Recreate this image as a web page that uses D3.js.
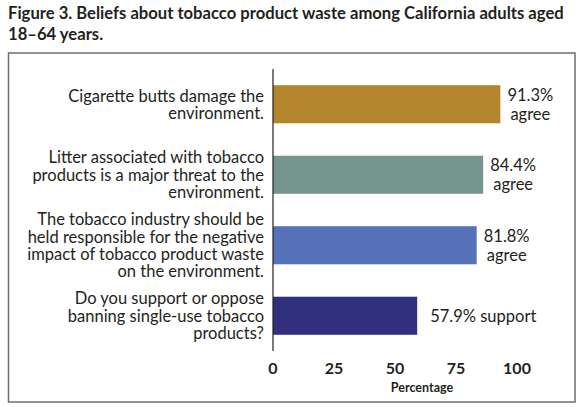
<!DOCTYPE html>
<html>
<head>
<meta charset="utf-8">
<script src="https://cdn.jsdelivr.net/npm/d3@7"></script>
<style>
  body { margin: 0; background: #fff; }
  svg text { font-family: Lato, "Open Sans", sans-serif; fill: #231f20; }
</style>
</head>
<body>
<svg id="chart" width="582" height="407"></svg>
<script>
// Chart data
const categories = [
  ['Cigarette butts damage the', 'environment.'],
  ['Litter associated with tobacco', 'products is a major threat to the', 'environment.'],
  ['The tobacco industry should be', 'held responsible for the negative', 'impact of tobacco product waste', 'on the environment.'],
  ['Do you support or oppose', 'banning single-use tobacco', 'products?']
];
const values = [91.3, 84.4, 81.8, 57.9];
const valueLabels = [['91.3%', 'agree'], ['84.4%', 'agree'], ['81.8%', 'agree'], ['57.9% support']];
const colors = ['#b3862e', '#75958e', '#5571b8', '#30307f'];
const tickValues = [0, 25, 50, 75, 100];
const titleLines = ['Figure 3. Beliefs about tobacco product waste among California adults aged', '18\u201364 years.'];

function renderChart() {
  const svg = d3.select('#chart');

  // title, shrink the font until the long line fits the width of the frame
  const title = svg.selectAll('.title')
    .data(titleLines)
    .enter()
    .append('text')
    .attr('class', 'title')
    .attr('x', 8)
    .attr('y', (d, i) => 19 + i * 21)
    .attr('font-size', 18)
    .attr('font-weight', 'bold')
    .text(d => d);
  const w = title.node().getComputedTextLength();
  if (w > 556) title.attr('font-size', 18 * 556 / w);

  // frame
  svg.append('rect')
    .attr('x', 8.5).attr('y', 53)
    .attr('width', 566.5).attr('height', 349)
    .attr('fill', 'none')
    .attr('stroke', '#6d6e71')
    .attr('stroke-width', 1.5);

  const x = d3.scaleLinear().domain([0, 100]).range([273, 522]);
  const y = d3.scaleBand()
    .domain(d3.range(values.length))
    .range([69, 351])
    .paddingInner(0.46)
    .paddingOuter(0.23);

  // bars
  svg.selectAll('.bar')
    .data(values)
    .enter()
    .append('rect')
    .attr('class', 'bar')
    .attr('x', x(0))
    .attr('y', (d, i) => y(i))
    .attr('width', d => x(d) - x(0))
    .attr('height', y.bandwidth())
    .attr('fill', (d, i) => colors[i]);

  // vertical axis line
  svg.append('line')
    .attr('x1', x(0)).attr('x2', x(0))
    .attr('y1', 69).attr('y2', 351)
    .attr('stroke', '#231f20')
    .attr('stroke-width', 1.2);

  // category labels
  const lineH = 17.3;
  categories.forEach((lines, i) => {
    const cy = y(i) + y.bandwidth() / 2;
    const t = svg.append('text')
      .attr('text-anchor', 'end')
      .attr('font-size', 16.5);
    lines.forEach((ln, j) => {
      t.append('tspan')
        .attr('x', 264)
        .attr('y', cy + (j - (lines.length - 1) / 2) * lineH + 6)
        .text(ln);
    });
  });

  // value labels
  values.forEach((v, i) => {
    const cy = y(i) + y.bandwidth() / 2;
    const lines = valueLabels[i];
    const t = svg.append('text')
      .attr('font-size', 16.5);
    if (lines.length === 1) {
      t.attr('x', x(v) + 13).attr('y', cy + 6).text(lines[0]);
    } else {
      t.attr('text-anchor', 'middle');
      lines.forEach((ln, j) => {
        t.append('tspan')
          .attr('x', x(v) + 30)
          .attr('y', cy + (j - 0.5) * 19 + 6)
          .text(ln);
      });
    }
  });

  // x tick labels
  const tx = d3.scaleLinear().domain([0, 100]).range([273, 517]);
  svg.selectAll('.tick')
    .data(tickValues)
    .enter()
    .append('text')
    .attr('class', 'tick')
    .attr('x', d => tx(d))
    .attr('y', 374)
    .attr('text-anchor', 'middle')
    .attr('font-size', 16)
    .attr('font-weight', 'bold')
    .text(d => d);

  svg.append('text')
    .attr('x', 422)
    .attr('y', 392)
    .attr('text-anchor', 'middle')
    .attr('font-size', 12.5)
    .attr('font-weight', 'bold')
    .text('Percentage');
}

document.addEventListener('DOMContentLoaded', renderChart);
</script>
</body>
</html>
